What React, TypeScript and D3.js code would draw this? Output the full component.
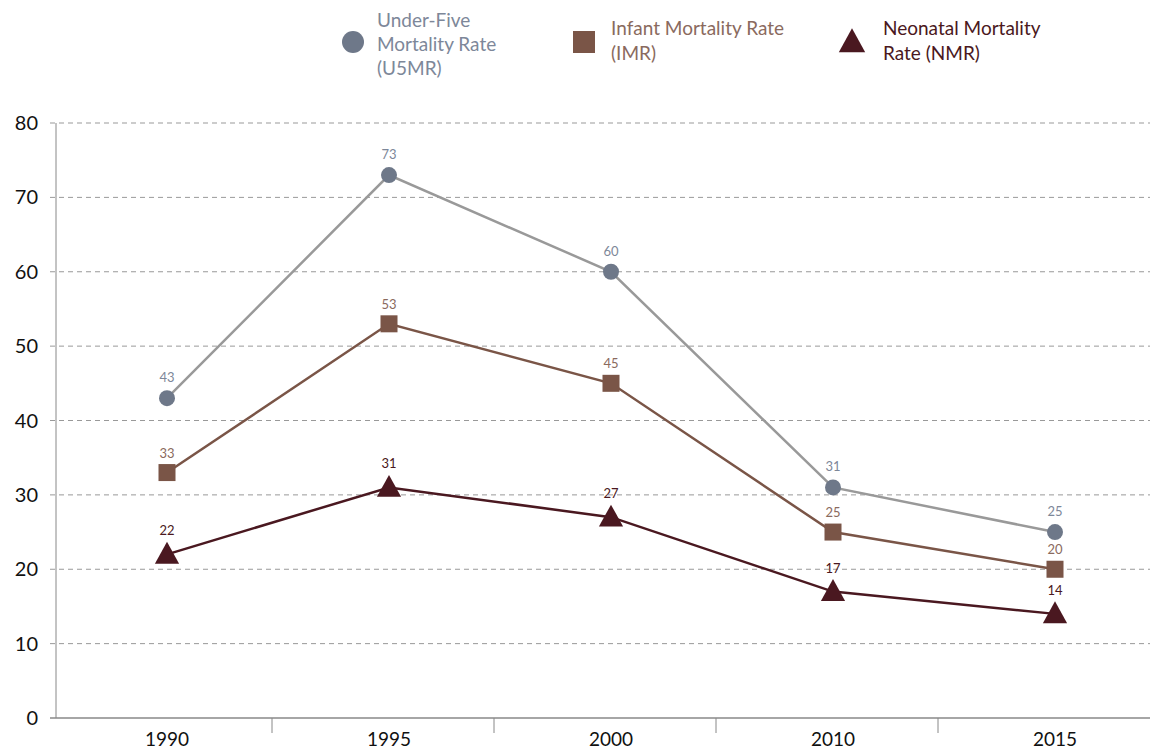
import React from "react";
import * as d3 from "d3";

const years = ["1990", "1995", "2000", "2010", "2015"];
const u5mr = [43, 73, 60, 31, 25];
const imr = [33, 53, 45, 25, 20];
const nmr = [22, 31, 27, 17, 14];
const yTicks = [0, 10, 20, 30, 40, 50, 60, 70, 80];

const W = 1150;
const H = 752;
const FONT = "Lato, 'Open Sans', sans-serif";

const series = [
  { key: "u5", name: ["Under-Five", "Mortality Rate", "(U5MR)"], values: u5mr, line: "#999999", marker: "#6e7889", label: "#7d8799", shape: "circle" },
  { key: "imr", name: ["Infant Mortality Rate", "(IMR)"], values: imr, line: "#7a5547", marker: "#7a5547", label: "#8a6a5e", shape: "square" },
  { key: "nmr", name: ["Neonatal Mortality", "Rate (NMR)"], values: nmr, line: "#4a1820", marker: "#4a1820", label: "#4a1820", shape: "triangle" },
];

function Marker({ shape, x, y, color, size }: { shape: string; x: number; y: number; color: string; size: number }) {
  if (shape === "circle") return <circle cx={x} cy={y} r={size * 0.5} fill={color} />;
  if (shape === "square") return <rect x={x - size / 2} y={y - size / 2} width={size} height={size} fill={color} />;
  const h = size * 0.95;
  return <path d={`M${x},${y - h * 0.6}L${x + size * 0.55},${y + h * 0.45}L${x - size * 0.55},${y + h * 0.45}Z`} fill={color} />;
}

export default function App() {
  const x = d3.scaleBand<string>().domain(years).range([50, 1160]);
  const px = (d: string) => (x(d) as number) + x.bandwidth() / 2 + 6;
  const y = d3.scaleLinear().domain([0, 80]).range([718, 123]);

  const sizes: Record<string, number> = { circle: 16, square: 17, triangle: 22 };
  const labelOff: Record<string, number> = { circle: 16, square: 15, triangle: 19 };

  const legendPos = [
    { mx: 353, my: 42, tx: 377, ty: 27, lh: 24, size: 22 },
    { mx: 584, my: 42, tx: 611, ty: 35, lh: 25, size: 22 },
    { mx: 852, my: 42, tx: 883, ty: 35, lh: 25, size: 24 },
  ];

  return (
    <svg width={W} height={H} style={{ position: "absolute", left: 0, top: 0, fontFamily: FONT }}>
      <rect width={W} height={H} fill="#fff" />
      {series.map((s, i) => {
        const lp = legendPos[i];
        return (
          <g key={s.key}>
            <Marker shape={s.shape} x={lp.mx} y={lp.my} color={s.marker} size={lp.size} />
            <text x={lp.tx} y={lp.ty} fontSize={19} fill={s.label}>
              {s.name.map((n, j) => (
                <tspan key={j} x={lp.tx} y={lp.ty + j * lp.lh}>{n}</tspan>
              ))}
            </text>
          </g>
        );
      })}
      {yTicks.filter((t) => t > 0).map((t) => (
        <line key={t} x1={50} x2={W} y1={y(t)} y2={y(t)} stroke="#999" strokeWidth={1} strokeDasharray="5,4" />
      ))}
      <line x1={56} x2={56} y1={y(80)} y2={y(0)} stroke="#888" strokeWidth={1} />
      {yTicks.map((t) => (
        <text key={t} x={38} y={y(t) + 7} fontSize={20} textAnchor="end" fill="#111">{t}</text>
      ))}
      <line x1={50} x2={W} y1={y(0)} y2={y(0)} stroke="#888" strokeWidth={1.5} />
      {years.slice(1).map((yr) => (
        <line key={yr} x1={x(yr) as number} x2={x(yr) as number} y1={y(0)} y2={y(0) + 15} stroke="#888" strokeWidth={1} />
      ))}
      {years.map((yr) => (
        <text key={yr} x={px(yr)} y={746} fontSize={19} textAnchor="middle" fill="#111">{yr}</text>
      ))}
      {series.map((s) => {
        const line = d3.line<number>().x((_, i) => px(years[i])).y((v) => y(v));
        return <path key={s.key} d={line(s.values) as string} fill="none" stroke={s.line} strokeWidth={2.5} />;
      })}
      {series.map((s) => (
        <g key={s.key}>
          {s.values.map((v, i) => (
            <g key={i}>
              <Marker shape={s.shape} x={px(years[i])} y={y(v)} color={s.marker} size={sizes[s.shape]} />
              <text x={px(years[i])} y={y(v) - labelOff[s.shape]} fontSize={13} textAnchor="middle" fill={s.label}>{v}</text>
            </g>
          ))}
        </g>
      ))}
    </svg>
  );
}
